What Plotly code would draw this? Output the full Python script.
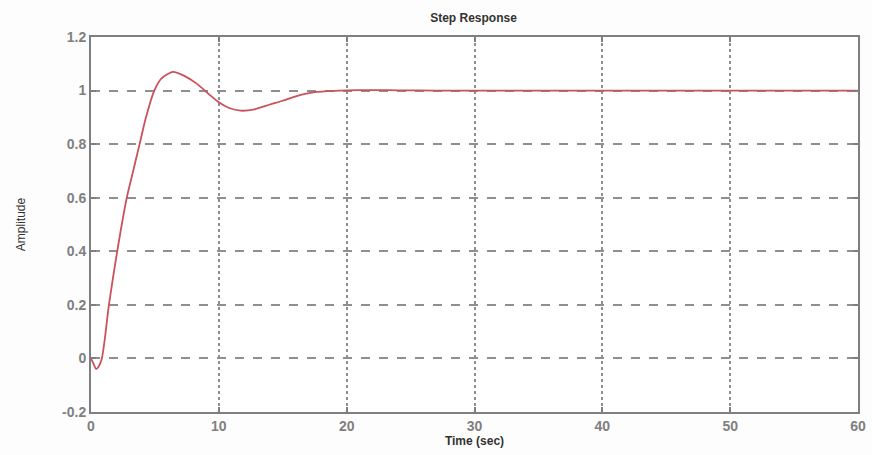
import plotly.graph_objects as go

# Step response samples (time in seconds, amplitude)
time_s = [0, 0.2, 0.4, 0.6, 0.85, 1.1, 1.4, 2.05, 2.8, 3.3, 3.8, 4.3, 4.95,
          5.5, 6.4, 7.3, 8.3, 9.26, 10.0, 10.8, 11.7, 12.8, 14.0, 15.0,
          16.4, 17.5, 19.0, 21.0, 24.0, 27.0, 30.0, 40.0, 50.0, 60.0]
amplitude = [0, -0.02, -0.04, -0.03, 0.0, 0.08, 0.2, 0.4, 0.6, 0.7, 0.8,
             0.9, 1.0, 1.045, 1.07, 1.055, 1.025, 0.985, 0.956, 0.935, 0.925,
             0.93, 0.948, 0.962, 0.984, 0.994, 0.999, 1.002, 1.001, 1.0, 1.0,
             1.0, 1.0, 1.0]

x_ticks = [0, 10, 20, 30, 40, 50, 60]
y_ticks = [-0.2, 0, 0.2, 0.4, 0.6, 0.8, 1.0, 1.2]
y_tick_text = ["-0.2", "0", "0.2", "0.4", "0.6", "0.8", "1", "1.2"]

fig = go.Figure()
fig.add_trace(go.Scatter(
    x=time_s, y=amplitude, mode="lines",
    line=dict(color="#c9525c", width=1.8, shape="spline", smoothing=0.6),
    showlegend=False,
))

axis_common = dict(
    showline=True, linecolor="#7f7f7f", linewidth=2, mirror="ticks",
    ticks="inside", ticklen=5, tickcolor="#7f7f7f", tickwidth=1.5,
    showgrid=True, gridcolor="#8f8f8f", gridwidth=1.5,
    zeroline=False, automargin=False,
    tickfont=dict(family="Liberation Sans", size=14, color="#808080", weight="bold"),
)

fig.update_xaxes(
    range=[0, 60], tickvals=x_ticks, griddash="dot",
    title=dict(text="Time (sec)", standoff=4,
               font=dict(family="Liberation Sans", size=12, color="#333333", weight="bold")),
    **axis_common,
)
fig.update_yaxes(
    range=[-0.2, 1.2], tickvals=y_ticks, ticktext=y_tick_text, griddash="dash",
    title=dict(text="Amplitude", standoff=34,
               font=dict(family="Liberation Sans", size=12, color="#333333")),
    **axis_common,
)

fig.update_layout(
    width=872, height=455,
    margin=dict(l=91, r=14, t=37, b=43),
    paper_bgcolor="#fdfdfd", plot_bgcolor="#ffffff",
    title=dict(text="Step Response", x=0.543, xanchor="center", y=0.96, yanchor="middle",
               font=dict(family="Liberation Sans", size=12, color="#333333", weight="bold")),
)

fig.write_html("out.html")
